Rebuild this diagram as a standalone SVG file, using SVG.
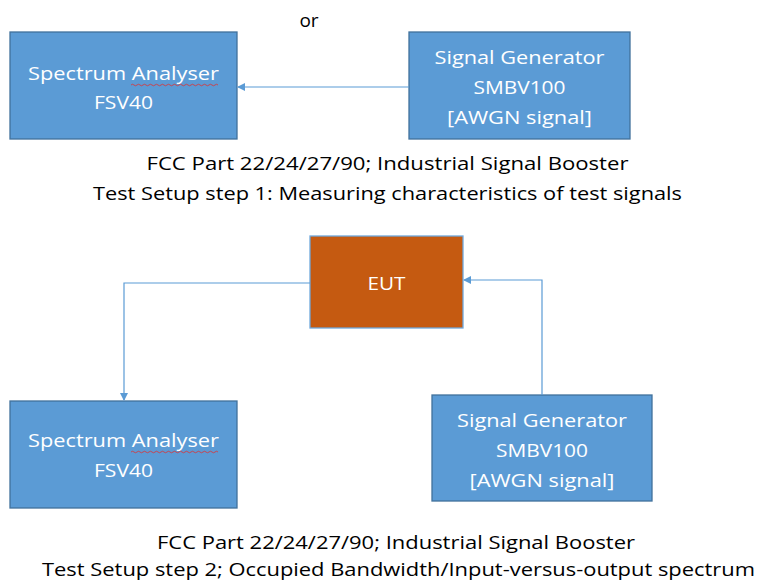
<svg xmlns="http://www.w3.org/2000/svg" width="757" height="582" viewBox="0 0 757 582">
<style>
.blue{fill:#5B9BD5;stroke:#41719C;stroke-width:1.3}
.orange{fill:#C55A11;stroke:#6FA8DC;stroke-width:1.3}
.bt{font-family:"Open Sans","Liberation Sans",sans-serif;font-size:19px;fill:#FFFFFF;text-anchor:middle}
.cap{font-family:"Open Sans","Liberation Sans",sans-serif;font-size:19px;fill:#000000;text-anchor:middle}
.conn{fill:none;stroke:#5B9BD5;stroke-width:1.2}
.wavy{fill:none;stroke:#E03030;stroke-width:0.8}
</style>
<defs>
<marker id="ah" markerWidth="8" markerHeight="8" refX="7" refY="4" orient="auto" markerUnits="userSpaceOnUse">
<path d="M0,0 L8,4 L0,8 Z" fill="#5B9BD5"/>
</marker>
</defs>
<text class="cap" x="309" y="27">or</text>
<g id="sa1">
<rect class="blue" x="10" y="32" width="227" height="107"/>
<text class="bt" x="123.5" y="80" textLength="191" lengthAdjust="spacingAndGlyphs">Spectrum Analyser</text>
<text class="bt" x="123.5" y="109" textLength="59" lengthAdjust="spacingAndGlyphs">FSV40</text>
<path class="wavy" d="M131,85 q1.5,-1.5 3,0 t3,0 t3,0 t3,0 t3,0 t3,0 t3,0 t3,0 t3,0 t3,0 t3,0 t3,0 t3,0 t3,0 t3,0 t3,0 t3,0 t3,0 t3,0 t3,0 t3,0 t3,0 t3,0 t3,0 t3,0 t3,0 t3,0 t3,0 t3,0"/>
</g>
<g id="sg1">
<rect class="blue" x="409" y="32" width="221" height="107"/>
<text class="bt" x="519.5" y="64" textLength="170" lengthAdjust="spacingAndGlyphs">Signal Generator</text>
<text class="bt" x="519.5" y="94" textLength="92" lengthAdjust="spacingAndGlyphs">SMBV100</text>
<text class="bt" x="519.5" y="124" textLength="145" lengthAdjust="spacingAndGlyphs">[AWGN signal]</text>
</g>
<g id="caption1">
<text class="cap" x="387.5" y="170" textLength="482" lengthAdjust="spacingAndGlyphs">FCC Part 22/24/27/90; Industrial Signal Booster</text>
<text class="cap" x="387.5" y="200" textLength="589" lengthAdjust="spacingAndGlyphs">Test Setup step 1: Measuring characteristics of test signals</text>
</g>
<g id="eut">
<rect class="orange" x="310" y="236" width="153" height="92"/>
<text class="bt" x="386.5" y="290" textLength="38" lengthAdjust="spacingAndGlyphs">EUT</text>
</g>
<g id="sa2">
<rect class="blue" x="10" y="401" width="227" height="107"/>
<text class="bt" x="123.5" y="447" textLength="191" lengthAdjust="spacingAndGlyphs">Spectrum Analyser</text>
<text class="bt" x="123.5" y="477" textLength="59" lengthAdjust="spacingAndGlyphs">FSV40</text>
<path class="wavy" d="M131,452 q1.5,-1.5 3,0 t3,0 t3,0 t3,0 t3,0 t3,0 t3,0 t3,0 t3,0 t3,0 t3,0 t3,0 t3,0 t3,0 t3,0 t3,0 t3,0 t3,0 t3,0 t3,0 t3,0 t3,0 t3,0 t3,0 t3,0 t3,0 t3,0 t3,0 t3,0"/>
</g>
<g id="sg2">
<rect class="blue" x="432" y="395" width="220" height="106"/>
<text class="bt" x="542" y="427" textLength="170" lengthAdjust="spacingAndGlyphs">Signal Generator</text>
<text class="bt" x="542" y="457" textLength="92" lengthAdjust="spacingAndGlyphs">SMBV100</text>
<text class="bt" x="542" y="487" textLength="145" lengthAdjust="spacingAndGlyphs">[AWGN signal]</text>
</g>
<g id="caption2">
<text class="cap" x="396" y="549" textLength="478" lengthAdjust="spacingAndGlyphs">FCC Part 22/24/27/90; Industrial Signal Booster</text>
<text class="cap" x="398.5" y="576" style="font-size:18px" textLength="713" lengthAdjust="spacingAndGlyphs">Test Setup step 2; Occupied Bandwidth/Input-versus-output spectrum</text>
</g>
<g id="connectors">
<path class="conn" d="M409,87 L238,87" marker-end="url(#ah)"/>
<path class="conn" d="M310,283 L124,283 L124,400" marker-end="url(#ah)"/>
<path class="conn" d="M542,395 L542,280 L464,280" marker-end="url(#ah)"/>
</g>
</svg>
